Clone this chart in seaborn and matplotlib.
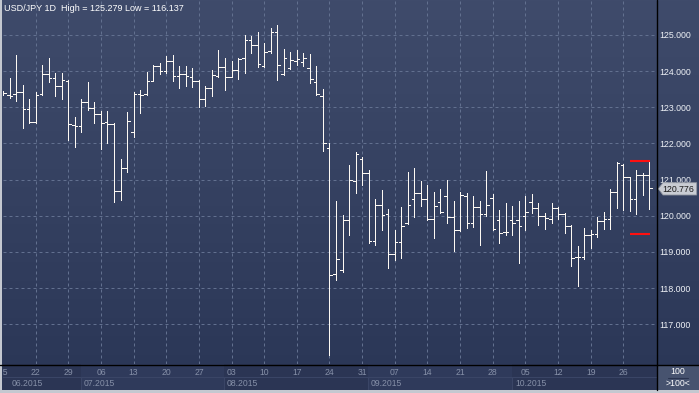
import numpy as np
import pandas as pd
import matplotlib
matplotlib.use("Agg")
import matplotlib.pyplot as plt
from matplotlib.patches import Rectangle, Polygon
import seaborn as sns

# ---------------- data (USD/JPY daily) ----------------
dates = pd.bdate_range("2015-06-15", "2015-10-30")
opens = [123.40, 123.34, 123.36, 123.41, 122.94, 122.60, 123.36, 123.91, 123.80, 123.59,
         123.74, 122.51, 122.48, 123.15, 122.99, 122.81, 122.58, 122.54, 120.68, 121.31,
         122.33, 123.38, 123.36, 123.74, 124.14, 124.01, 124.28, 123.87, 123.91, 123.83,
         123.73, 123.22, 123.53, 123.87, 124.12, 123.85, 124.02, 124.36, 124.86, 124.72,
         124.14, 124.56, 125.07, 123.91, 124.08, 124.28, 124.26, 124.08, 123.70, 123.32,
         121.87, 118.38, 118.49, 119.87, 120.96, 121.56, 121.17, 119.31, 120.30, 120.04,
         118.93, 119.27, 119.79, 120.46, 120.62, 120.45, 119.90, 120.39, 120.55, 119.97,
         119.61, 120.55, 119.79, 120.25, 120.04, 120.48, 119.88, 119.56, 119.88, 119.88,
         119.99, 120.39, 120.21, 119.99, 119.90, 120.21, 120.05, 119.72, 118.86, 118.86,
         119.47, 119.49, 119.85, 119.91, 120.67, 121.40, 121.06, 120.45, 121.13, 121.13]
highs = [123.46, 123.80, 124.45, 123.62, 123.22, 123.41, 124.17, 124.35, 123.94, 123.96,
         123.76, 122.72, 123.22, 123.71, 123.15, 122.91, 122.90, 122.56, 121.56, 122.88,
         123.41, 123.48, 123.97, 124.17, 124.23, 124.43, 124.46, 124.15, 124.15, 124.08,
         123.76, 123.59, 124.03, 124.59, 124.36, 124.28, 124.36, 125.00, 124.97, 125.08,
         124.79, 125.19, 125.28, 124.60, 124.52, 124.59, 124.49, 124.47, 124.14, 123.50,
         122.00, 120.41, 120.02, 121.40, 121.76, 121.63, 121.27, 120.46, 120.71, 120.19,
         119.61, 120.23, 121.22, 121.31, 120.97, 120.85, 120.67, 120.74, 120.99, 120.41,
         120.67, 120.62, 120.55, 120.42, 121.24, 120.60, 120.16, 120.36, 120.27, 120.42,
         120.56, 120.59, 120.36, 120.07, 120.36, 120.25, 120.07, 119.74, 119.16, 119.65,
         119.61, 119.97, 120.11, 120.74, 121.50, 121.43, 121.08, 121.26, 121.17, 121.52]
lows = [123.34, 123.27, 123.18, 122.42, 122.56, 122.56, 123.34, 123.71, 123.31, 123.22,
        122.10, 121.91, 122.33, 122.93, 122.57, 121.84, 122.00, 120.39, 120.44, 121.22,
        122.19, 122.85, 123.34, 123.72, 123.91, 123.94, 123.74, 123.54, 123.60, 123.57,
        123.00, 123.04, 123.32, 123.85, 123.48, 123.83, 123.78, 123.96, 124.51, 124.11,
        124.12, 124.51, 123.76, 123.90, 124.05, 124.17, 124.15, 123.68, 123.35, 121.80,
        116.14, 118.22, 118.45, 119.47, 120.64, 120.85, 119.24, 119.19, 119.61, 118.56,
        118.78, 118.84, 119.76, 119.97, 120.28, 119.88, 119.39, 120.07, 119.79, 119.03,
        119.59, 119.65, 119.68, 119.19, 119.98, 119.60, 119.24, 119.47, 119.47, 118.69,
        119.61, 120.07, 119.74, 119.62, 119.81, 119.90, 119.53, 118.61, 118.07, 118.80,
        119.12, 119.42, 119.62, 119.62, 120.21, 120.16, 120.13, 120.05, 120.57, 120.20]
closes = [123.39, 123.31, 123.41, 122.94, 122.60, 123.34, 123.91, 123.80, 123.59, 123.76,
          122.53, 122.48, 123.15, 122.97, 122.81, 122.56, 122.54, 120.68, 121.31, 122.62,
          123.38, 123.34, 123.74, 124.14, 124.01, 124.28, 123.87, 123.91, 123.87, 123.73,
          123.22, 123.53, 123.88, 124.11, 123.85, 124.02, 124.34, 124.86, 124.72, 124.20,
          124.54, 125.07, 124.17, 124.37, 124.31, 124.33, 124.37, 123.77, 123.37, 122.00,
          118.35, 118.80, 119.87, 120.99, 121.70, 121.17, 119.31, 120.30, 120.01, 118.93,
          119.27, 119.72, 120.30, 120.62, 120.45, 119.90, 120.28, 120.11, 119.97, 119.61,
          120.57, 119.79, 120.25, 120.04, 120.30, 119.64, 119.51, 119.56, 119.81, 119.72,
          120.10, 120.21, 119.99, 119.93, 120.21, 120.05, 119.72, 118.82, 118.86, 119.47,
          119.49, 119.85, 119.91, 120.67, 121.45, 121.06, 120.45, 121.12, 121.13, 120.776]
red_levels = [121.52, 119.50]
red_start, red_end = "2015-10-27", "2015-10-30"
price_ticks = [117, 118, 119, 120, 121, 122, 123, 124, 125]
month_labels = ["06.2015", "07.2015", "08.2015", "09.2015", "10.2015"]
title_text = "USD/JPY 1D  High = 125.279 Low = 116.137"
last_price = "120.776"

# ---------------- style ----------------
sns.set_style("dark")
plt.rcParams["font.family"] = ["Liberation Sans", "DejaVu Sans"]

W, H = 699, 393
fig = plt.figure(figsize=(W / 100, H / 100), dpi=100)


def px(x0, y0, x1, y1):
    return [x0 / W, 1 - y1 / H, (x1 - x0) / W, (y1 - y0) / H]


# background gradient
bg = fig.add_axes([0, 0, 1, 1], zorder=0)
top_c = np.array([0x3f, 0x4b, 0x6b]) / 255
bot_c = np.array([0x2a, 0x36, 0x56]) / 255
t = np.linspace(0, 1, 256)[:, None]
grad = (top_c[None, :] * (1 - t) + bot_c[None, :] * t)[:, None, :]
bg.imshow(grad, aspect="auto", extent=[0, 1, 0, 1], origin="upper")
bg.set_axis_off()

n = len(dates)
XL = (0.03, 100.08)

ax = fig.add_axes(px(3.2, 0, 656.5, 364), zorder=2)
ax.set_facecolor("none")
for s in ax.spines.values():
    s.set_visible(False)

# OHLC segments as long-form table drawn with seaborn
tk = 0.40
rows = []
for i, (o, h, l, c) in enumerate(zip(opens, highs, lows, closes)):
    rows += [(i, l, 3 * i), (i, h, 3 * i),
             (i - tk, o, 3 * i + 1), (i, o, 3 * i + 1),
             (i, c, 3 * i + 2), (i + tk, c, 3 * i + 2)]
seg = pd.DataFrame(rows, columns=["x", "y", "seg"])
sns.lineplot(data=seg, x="x", y="y", units="seg", estimator=None, sort=False,
             color="#fdf9f3", lw=0.6, ax=ax, legend=False, antialiased=False,
             solid_capstyle="butt")

# red levels
r0 = dates.get_loc(pd.Timestamp(red_start))
r1 = dates.get_loc(pd.Timestamp(red_end))
ax.hlines(red_levels, r0 - 0.05, r1 + 0.05, color="#ff1010", lw=1.5, zorder=5)

mondays = [i for i, d in enumerate(dates) if d.weekday() == 0]
ax.set_xticks(mondays)
ax.set_yticks(price_ticks)
ax.grid(True, color="#62708f", ls=(0, (3, 3)), lw=0.72)
ax.set_axisbelow(True)
ax.set_xlim(*XL)
ax.set_ylim(115.899, 125.968)
ax.set_xlabel("")
ax.set_ylabel("")
ax.tick_params(axis="x", length=0, labelbottom=False)
ax.yaxis.tick_right()
ax.tick_params(axis="y", length=0, pad=2.2, labelsize=6.3, labelcolor="#eef1f6",
               labelleft=False, labelright=True)
ax.set_yticklabels([f"{v:.3f}" for v in price_ticks])

# date band
band = fig.add_axes(px(3.2, 364, 656.5, 390), zorder=2)
band.set_xlim(*XL)
band.set_ylim(0, 1)
band.set_axis_off()
month_edges = [-1.0, 11.9, 33.9, 55.95, 78.0, 101.0]
for k in range(5):
    a, b = month_edges[k], month_edges[k + 1]
    col = "#2b3554" if k % 2 == 0 else "#2f3a5b"
    band.add_patch(Rectangle((a, 0), b - a, 1, facecolor=col, edgecolor="none", zorder=0))
    band.add_patch(Rectangle((a, 0), b - a, 0.5, facecolor="none", edgecolor="#3a4566",
                             lw=0.8, zorder=1))
    lx = max(a, 0.95) + 0.4
    band.text(lx, 0.25, month_labels[k], ha="left", va="center", fontsize=6.2,
              color="#8690a8", clip_on=True)
for i in mondays:
    band.text(i, 0.67, dates[i].strftime("%d"), ha="center", va="center",
              fontsize=6.2, color="#8690a8", clip_on=True)

# overlay in pixel coordinates
ov = fig.add_axes([0, 0, 1, 1], zorder=3)
ov.set_xlim(0, W)
ov.set_ylim(H, 0)
ov.set_axis_off()
ov.patch.set_alpha(0)
ov.add_patch(Rectangle((657, 364.5), 42, 25.5, facecolor="#47536f", edgecolor="none"))
ov.plot([0, W], [364.5, 364.5], color="black", lw=1.0)
ov.plot([656.5, 656.5], [0, 390], color="black", lw=1.0)
ov.text(677.5, 371.5, "100", ha="center", va="center", fontsize=6.3, color="white")
ov.plot([668, 688], [378, 378], color="#2a3450", lw=0.8)
ov.text(677.5, 384, ">100<", ha="center", va="center", fontsize=6.3, color="white")
# frame
ov.add_patch(Rectangle((0, 390), W, 3, facecolor="#c4c8d0", edgecolor="none"))
ov.add_patch(Rectangle((0, 0), 2, H, facecolor="#c4c8d0", edgecolor="none"))
# last price tag
poly = Polygon([(658.3, 188.8), (663, 182.7), (696.7, 182.7), (696.7, 195), (663, 195)],
               closed=True, facecolor="#c9ccd3", edgecolor="#8e939e", lw=0.6)
ov.add_patch(poly)
ov.text(678, 189, last_price, ha="center", va="center", fontsize=6.3, color="#1a1a1a")
# title
ov.text(4, 8.5, title_text, ha="left", va="center", fontsize=6.5, color="white")

fig.savefig("out.png", dpi=100)
